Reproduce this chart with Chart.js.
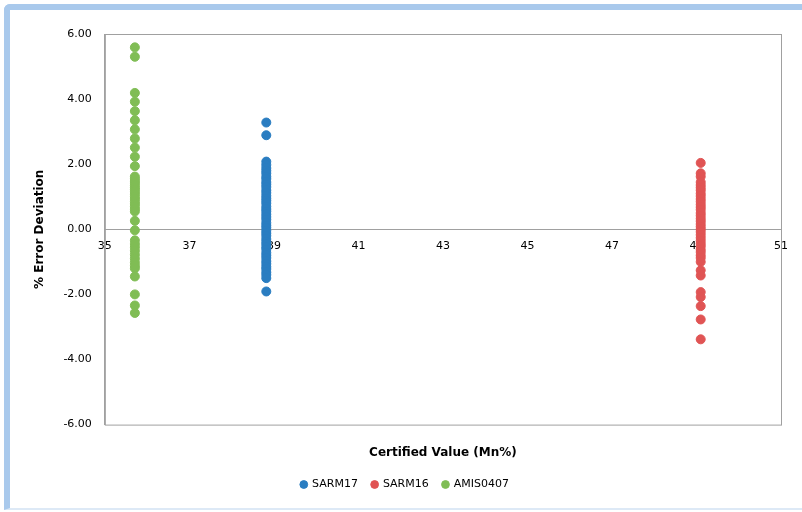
<!DOCTYPE html>
<html>
<head>
<meta charset="utf-8">
<script src="https://cdn.jsdelivr.net/npm/chart.js@4"></script>
<style>
  html, body { margin: 0; padding: 0; background: #fff; }
  body { width: 802px; height: 512px; overflow: hidden; position: relative; }
  #frame {
    position: absolute; left: 4px; top: 4px; width: 820px; height: 506px;
    border: 6px solid #a9c9ec; border-right: none; border-bottom: 2px solid #dde9f6;
    border-radius: 6px 0 0 0;
    box-sizing: border-box;
  }
  #wrap { position: absolute; left: 0; top: 0; width: 802px; height: 512px; }
</style>
</head>
<body>
<div id="frame"></div>
<div id="wrap"><canvas id="chart_erro"></canvas></div>
<script>
const grafico = document.getElementById("chart_erro");

// valores certificados (Mn%)
const certSarm17 = 38.82;
const certSarm16 = 49.1;
const certAmis = 35.71;

// % de desvio de erro
const erroSarm17 = [3.28, 2.89, 2.08, 1.98, 1.88, 1.8, 1.72, 1.62, 1.55, 1.45, 1.38, 1.3, 1.2, 1.12,
  1.03, 0.95, 0.88, 0.8, 0.7, 0.62, 0.55, 0.46, 0.38, 0.3, 0.2, 0.12, 0.05, -0.04, -0.12, -0.2,
  -0.3, -0.38, -0.46, -0.55, -0.62, -0.72, -0.8, -0.88, -0.98, -1.06, -1.15, -1.22, -1.32, -1.4,
  -1.5, -1.91];
const erroSarm16 = [2.04, 1.72, 1.62, 1.45, 1.36, 1.28, 1.2, 1.1, 1.02, 0.93, 0.85, 0.76, 0.68,
  0.6, 0.5, 0.42, 0.33, 0.25, 0.16, 0.08, 0.0, -0.08, -0.17, -0.26, -0.35, -0.44, -0.52, -0.62,
  -0.7, -0.8, -0.88, -1.0, -1.26, -1.42, -1.93, -2.08, -2.36, -2.77, -3.38];
const erroAmis = [5.59, 5.3, 4.19, 3.92, 3.63, 3.35, 3.07, 2.79, 2.51, 2.23, 1.94, 1.62, 1.55,
  1.48, 1.42, 1.35, 1.28, 1.22, 1.15, 1.08, 1.0, 0.93, 0.85, 0.78, 0.7, 0.62, 0.55, 0.26, -0.03,
  -0.34, -0.45, -0.55, -0.66, -0.78, -0.9, -1.02, -1.12, -1.2, -1.45, -2.0, -2.34, -2.57];

const pontos = (x, lista) => lista.map(y => ({ x: x, y: y }));

Chart.defaults.font.family = "DejaVu Sans";
Chart.defaults.color = "#000000";

const moldura = {
  id: "moldura",
  afterDraw(chart) {
    const a = chart.chartArea;
    const ctx = chart.ctx;
    ctx.save();
    ctx.strokeStyle = "#a0a0a0";
    ctx.lineWidth = 1;
    ctx.strokeRect(a.left + 0.5, a.top + 0.5, a.right - a.left, a.bottom - a.top);
    ctx.restore();
  },
};

new Chart(grafico, {
  type: "scatter",
  data: {
    datasets: [
      {
        label: "SARM17",
        data: pontos(certSarm17, erroSarm17),
        backgroundColor: "#2a7dc1",
        borderColor: "#2a7dc1",
        pointRadius: 4.5,
        pointHoverRadius: 4.5,
      },
      {
        label: "SARM16",
        data: pontos(certSarm16, erroSarm16),
        backgroundColor: "#e05454",
        borderColor: "#e05454",
        pointRadius: 4.5,
        pointHoverRadius: 4.5,
      },
      {
        label: "AMIS0407",
        data: pontos(certAmis, erroAmis),
        backgroundColor: "#80bd55",
        borderColor: "#80bd55",
        pointRadius: 4.5,
        pointHoverRadius: 4.5,
      },
    ],
  },
  options: {
    responsive: true,
    maintainAspectRatio: false,
    animation: false,
    layout: {
      padding: { left: 29, right: 21, top: 34, bottom: 12 },
    },
    scales: {
      x: {
        min: 35,
        max: 51,
        position: "bottom",
        grid: { display: false },
        border: { display: false },
        ticks: { display: false },
        title: {
          display: true,
          text: "Certified Value (Mn%)",
          font: { size: 12, weight: "bold" },
          padding: { top: 13, bottom: 5 },
        },
      },
      xEixo: {
        type: "linear",
        min: 35,
        max: 51,
        position: { y: 0 },
        grid: { display: false, drawTicks: false },
        border: { display: true, color: "#a0a0a0" },
        ticks: {
          stepSize: 2,
          font: { size: 11 },
          padding: 10,
          color: "#000000",
        },
      },
      y: {
        min: -6,
        max: 6,
        grid: { display: false, drawTicks: false },
        border: { display: true, color: "#a0a0a0" },
        ticks: {
          stepSize: 2,
          font: { size: 11 },
          padding: 13,
          callback: v => v.toFixed(2),
        },
        title: {
          display: true,
          text: "% Error Deviation",
          font: { size: 12, weight: "bold" },
          padding: { top: 4, bottom: 3 },
        },
      },
    },
    plugins: {
      legend: {
        position: "bottom",
        labels: {
          usePointStyle: true,
          pointStyle: "circle",
          boxWidth: 5.5,
          boxHeight: 5.5,
          padding: 14,
          font: { size: 11 },
        },
      },
      tooltip: { enabled: false },
    },
  },
  plugins: [moldura],
});
</script>
</body>
</html>
